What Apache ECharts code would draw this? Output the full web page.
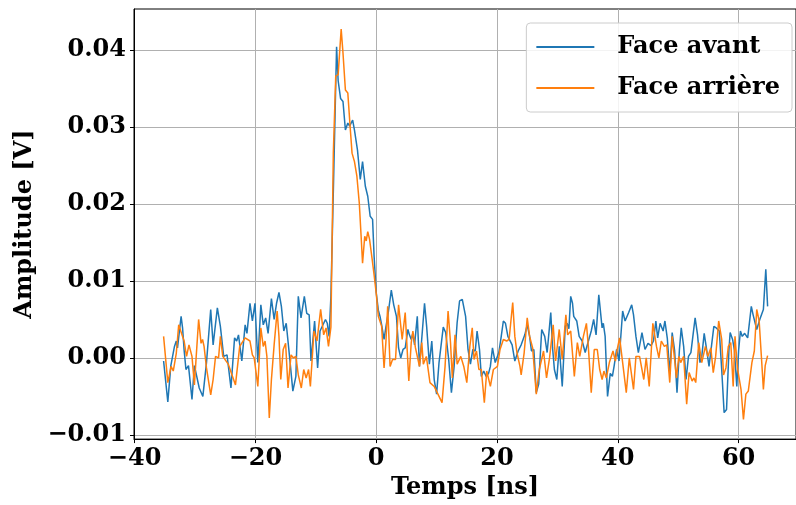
<!DOCTYPE html>
<html><head><meta charset="utf-8">
<script src="https://cdn.jsdelivr.net/npm/echarts@6/dist/echarts.min.js"></script>
<style>html,body{margin:0;padding:0;background:#fff}#c{width:796px;height:505px}</style>
</head><body><div id="c"></div>
<script>
const seriesNames = ['Face avant', 'Face arrière'];
const xTicks = [-40, -20, 0, 20, 40, 60];
const yTicks = [-0.01, 0, 0.01, 0.02, 0.03, 0.04];

// Face avant : time (ns) and amplitude (mV)
const tAvant = [-35.2,-34.5,-34.0,-33.4,-33.1,-32.9,-32.3,-32.06,-31.8,-31.5,
-31.08,-30.5,-30.1,-29.3,-29.0,-28.7,-28.1,-27.4,-27.0,-26.3,
-25.8,-25.25,-24.7,-24.05,-23.45,-23.1,-22.8,-22.25,-21.7,-21.4,
-20.9,-20.5,-20.07,-19.6,-19.1,-18.7,-18.3,-17.9,-17.35,-16.9,
-16.5,-16.1,-15.7,-15.3,-14.9,-14.35,-13.8,-13.5,-13.3,-12.9,
-12.45,-11.9,-11.5,-11.1,-10.8,-10.2,-9.7,-9.3,-8.4,-8.1,
-7.8,-7.5,-7.0,-6.56,-6.3,-5.9,-5.5,-5.1,-4.7,-4.4,
-3.9,-3.6,-3.1,-2.64,-2.26,-1.8,-1.4,-1.0,-0.6,-0.35,
0.0,0.35,0.63,0.9,1.3,1.6,2.0,2.5,2.9,3.35,
3.7,4.06,4.44,4.8,5.25,5.5,5.8,6.07,6.35,6.8,
7.16,7.4,8.0,8.35,8.8,9.2,9.6,10.0,10.4,11.1,
11.5,12.0,12.45,12.9,13.4,13.8,14.25,14.8,15.2,15.6,
16.0,16.4,16.7,17.1,17.4,17.8,18.2,18.6,18.9,19.25,
19.7,20.0,20.3,20.7,21.05,21.4,21.8,22.1,22.5,22.95,
23.5,24.0,24.6,25.0,25.4,25.7,26.1,26.5,26.9,27.4,
27.9,28.3,28.9,29.2,29.5,29.9,30.3,30.8,31.3,31.6,
31.9,32.2,32.5,32.7,33.2,33.6,34.1,34.6,35.2,35.6,
36.0,36.4,36.85,37.4,37.6,37.9,38.3,38.75,39.1,39.4,
39.8,40.2,40.8,41.2,41.8,42.3,42.6,43.0,43.4,44.0,
44.5,45.0,45.5,45.9,46.3,46.6,47.0,47.5,47.8,48.2,
48.6,49.0,49.4,49.8,50.2,50.5,50.9,51.3,51.7,52.1,
52.5,52.8,53.2,53.6,53.9,54.3,54.7,55.1,55.5,55.9,
56.3,56.8,57.2,57.6,58.0,58.4,58.6,59.0,59.3,59.7,
60.0,60.3,60.6,61.0,61.5,62.1,62.4,63.0,63.5,64.1,
64.5,64.8];
const vAvant = [-0.4,-5.7,-1.0,1.5,2.2,1.3,5.4,3.9,1.0,-1.5,
-1.0,-5.4,-1.0,-3.9,-4.1,-5.0,-0.6,6.3,1.7,6.5,
4.1,0.2,0.4,-3.9,2.6,2.2,3.0,-0.4,4.3,3.2,
7.1,4.8,7.1,-0.6,6.9,4.3,5.2,3.2,7.7,5.0,
7.1,8.5,6.7,3.5,4.5,0.2,-4.3,-4.1,-2.4,8.0,
5.2,8.0,5.8,5.6,-0.4,4.8,-1.3,3.5,5.0,4.5,
2.8,8.0,25.0,40.4,36.0,33.7,33.3,29.6,30.5,30.1,
30.9,29.6,27.0,23.2,25.5,22.3,21.0,18.4,18.0,13.2,
8.5,6.2,5.4,4.3,2.4,4.0,5.9,8.8,6.9,5.4,
1.3,0.0,1.1,1.3,3.7,3.0,2.4,3.2,1.7,5.4,
-1.1,1.1,7.1,4.1,-0.8,2.2,-2.8,-4.7,-0.6,4.0,
3.3,-0.2,-4.5,-1.1,4.6,7.4,7.6,5.4,1.1,-0.8,
1.1,0.9,3.5,1.1,-2.4,-1.7,-2.4,-2.0,-1.1,1.3,
-0.6,-0.8,0.7,2.8,4.8,4.5,2.8,3.0,1.7,-0.4,
0.9,1.7,3.0,4.3,2.8,0.9,1.1,-4.5,-3.4,3.7,
2.8,0.7,5.9,1.3,-1.5,-2.8,1.5,-3.7,4.1,4.5,
3.8,8.0,7.1,5.4,4.8,2.8,2.2,0.7,2.4,3.5,
5.0,3.0,8.2,3.9,4.5,2.8,-5.0,-2.0,-2.4,-1.0,
1.1,-0.4,6.1,4.8,5.9,6.9,5.6,2.8,0.7,3.3,
1.1,1.9,1.6,2.2,4.8,2.6,4.5,3.5,4.8,2.5,
-2.0,3.3,1.0,-4.5,1.1,3.9,1.5,-2.8,0.2,0.7,
3.3,5.2,3.0,-0.6,0.2,3.2,1.1,-1.1,1.5,4.1,
3.9,3.5,-1.5,-7.1,-6.7,1.1,3.3,2.4,1.0,-3.7,
1.0,3.5,2.8,3.2,2.6,6.7,5.6,3.7,5.0,6.3,
11.5,6.7];

// Face arrière : time (ns) and amplitude (mV)
const tArriere = [-35.2,-34.5,-33.96,-33.6,-33.1,-32.7,-32.06,-31.8,-31.4,-31.0,
-30.5,-30.1,-29.8,-29.4,-29.0,-28.75,-28.5,-28.1,-27.4,-27.0,
-26.6,-26.1,-25.8,-25.4,-24.5,-23.3,-22.6,-21.7,-21.4,-20.9,
-20.5,-20.2,-19.6,-19.1,-18.7,-18.4,-18.1,-17.7,-17.35,-16.9,
-16.4,-16.1,-15.8,-15.4,-15.0,-14.6,-14.1,-13.7,-13.3,-12.9,
-12.6,-12.4,-12.0,-11.6,-11.2,-10.9,-10.3,-9.8,-9.2,-8.7,
-8.3,-7.9,-7.5,-7.1,-6.7,-6.3,-5.8,-5.5,-5.1,-4.7,
-4.28,-4.0,-3.6,-3.2,-2.8,-2.5,-2.26,-1.9,-1.65,-1.4,
-1.1,-0.7,-0.35,0.0,0.35,0.63,0.9,1.3,1.6,1.9,
2.3,2.7,3.2,3.7,4.3,4.8,5.4,5.8,6.07,6.5,
6.8,7.16,7.55,7.8,8.3,8.9,9.6,10.1,10.9,11.4,
11.9,12.3,12.6,13.05,13.4,14.0,14.5,15.0,15.5,15.9,
16.2,16.6,17.0,17.4,17.9,18.3,18.9,19.4,20.07,20.5,
21.05,21.6,22.0,22.6,22.95,23.3,23.8,24.0,24.5,25.0,
25.4,25.9,26.5,27.0,27.7,28.2,28.7,29.3,29.7,30.3,
30.8,31.4,31.7,32.2,32.8,33.3,33.7,34.3,34.8,35.1,
35.6,36.1,36.6,37.0,37.4,37.7,38.1,38.6,39.2,39.6,
39.9,40.3,40.8,41.4,41.9,42.6,43.0,43.6,44.3,44.7,
45.2,45.8,46.4,46.8,47.2,47.7,48.1,48.6,49.0,49.4,
49.7,50.1,50.4,50.9,51.4,51.8,52.3,52.6,52.9,53.4,
53.9,54.1,54.5,54.9,55.4,55.8,56.2,56.7,57.2,57.5,
57.9,58.3,58.7,59.1,59.4,59.8,60.1,60.4,60.8,61.2,
61.6,62.2,62.6,63.0,63.4,63.8,64.1,64.4,64.8];
const vArriere = [2.8,-3.2,-1.1,-1.7,0.6,4.3,2.8,2.2,0.2,1.7,
0.2,-3.5,0.2,5.0,1.9,2.4,1.5,-1.3,-4.8,-2.8,
0.2,0.0,2.8,0.2,-0.8,-3.5,1.5,2.6,2.8,2.2,
0.4,0.0,-3.7,3.9,1.5,2.2,0.2,-7.8,-2.8,1.7,
6.1,2.8,-2.8,1.1,1.9,-3.9,0.4,0.0,0.2,-2.2,
-2.0,-3.9,-1.5,-2.6,-1.5,-3.7,3.5,2.2,6.3,3.0,
3.9,1.5,4.0,26.6,36.6,36.8,42.7,39.6,34.8,34.4,
29.6,26.6,25.5,23.6,20.1,15.8,12.3,15.8,15.2,16.4,
15.4,13.0,10.8,8.4,5.4,5.2,4.1,-1.3,2.0,6.7,
-1.1,-0.2,-0.2,6.9,2.4,5.9,-3.0,2.0,3.5,1.3,
1.1,-1.1,2.0,-0.8,0.2,-3.2,-3.7,-4.5,-5.8,-1.1,
6.1,2.0,-2.6,3.0,-0.8,0.2,-1.1,-3.2,1.5,3.9,
-0.2,0.9,-1.5,-1.5,-5.8,-1.7,-3.7,-1.5,-1.1,1.1,
2.4,2.2,2.4,7.2,2.8,0.7,-1.1,-2.2,0.7,5.2,
2.8,1.3,-4.7,-1.5,0.9,-2.6,0.0,4.3,-0.4,3.7,
-0.2,5.6,3.0,3.5,-2.4,2.0,0.2,2.8,4.5,1.7,
-4.5,1.1,1.1,-1.5,-2.8,-1.7,-2.6,-0.6,0.9,-0.4,
1.1,2.6,-0.6,-4.5,0.0,-4.1,0.2,0.2,-2.8,0.0,
-3.7,4.5,1.5,0.0,2.2,1.5,1.7,-3.2,2.8,-0.2,
-2.6,0.2,-0.6,0.2,-6.0,-1.9,-3.0,-2.6,-3.2,2.0,
-0.6,-0.8,1.5,0.2,1.3,-1.9,0.2,4.8,2.4,-2.2,
-1.3,1.5,2.0,-3.7,2.8,-1.3,-1.1,-4.1,-8.0,-4.7,
-4.3,-0.6,0.9,6.3,4.8,-0.2,-4.1,-1.0,0.3];

const FONT = 'DejaVu Serif';
const txt = {fontFamily: FONT, fontWeight: 'bold', fontSize: 24, color: '#000'};
const minus = s => s.replace('-', '\u2212');

const chart = echarts.init(document.getElementById('c'), null, {renderer: 'canvas'});
chart.setOption({
  animation: false,
  backgroundColor: '#fff',
  grid: {left: 134, right: -9, top: 9, bottom: 65, show: true, borderColor: '#000', borderWidth: 1, backgroundColor: 'transparent'},
  legend: {
    data: seriesNames, orient: 'vertical', right: 4, top: 23,
    icon: 'rect', itemWidth: 58, itemHeight: 2, itemGap: 11,
    padding: [9, 12, 9, 10],
    backgroundColor: 'rgba(255,255,255,0.85)', borderColor: '#cccccc', borderWidth: 1, borderRadius: 4,
    textStyle: Object.assign({}, txt, {lineHeight: 30, padding: [0, 0, 0, 18]})
  },
  xAxis: {
    type: 'value', min: -40.1, max: 69.5,
    name: 'Temps [ns]', nameLocation: 'middle', nameGap: 34, nameTextStyle: txt,
    axisLine: {show: true, onZero: false, lineStyle: {color: '#000', width: 1}},
    axisTick: {show: true, inside: false, length: 4, lineStyle: {color: '#000'}, customValues: xTicks},
    axisLabel: Object.assign({}, txt, {margin: 8, customValues: xTicks, formatter: v => minus(String(v))}),
    splitLine: {show: true, lineStyle: {color: '#b0b0b0', width: 1}}
  },
  yAxis: {
    type: 'value', min: -0.01054, max: 0.04532,
    name: 'Amplitude [V]', nameLocation: 'middle', nameGap: 97, nameTextStyle: txt,
    axisLine: {show: true, onZero: false, lineStyle: {color: '#000', width: 1}},
    axisTick: {show: true, inside: false, length: 4, lineStyle: {color: '#000'}, customValues: yTicks},
    axisLabel: Object.assign({}, txt, {margin: 8, customValues: yTicks, formatter: v => minus(v.toFixed(2))}),
    splitLine: {show: true, lineStyle: {color: '#b0b0b0', width: 1}}
  },
  series: [
    {name: seriesNames[0], type: 'line', showSymbol: false, symbol: 'none', color: '#1f77b4',
     lineStyle: {width: 1.5}, data: tAvant.map((t, i) => [t, vAvant[i] / 1000])},
    {name: seriesNames[1], type: 'line', showSymbol: false, symbol: 'none', color: '#ff7f0e',
     lineStyle: {width: 1.5}, data: tArriere.map((t, i) => [t, vArriere[i] / 1000])}
  ]
});
</script></body></html>
